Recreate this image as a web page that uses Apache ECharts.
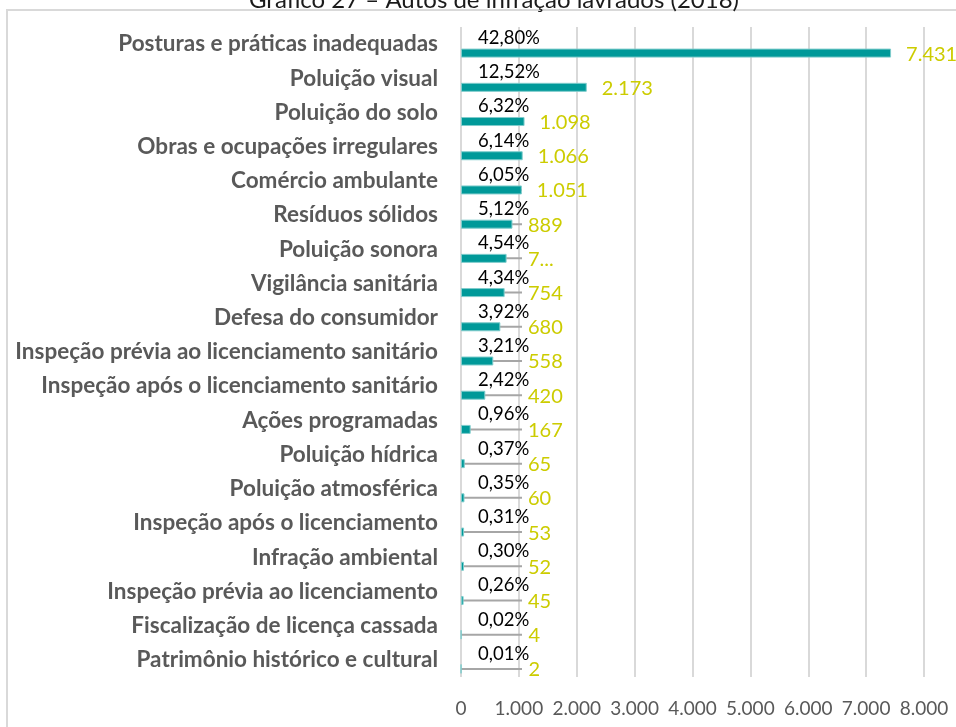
<!DOCTYPE html>
<html>
<head>
<meta charset="utf-8">
<script src="https://cdn.jsdelivr.net/npm/echarts@6/dist/echarts.min.js"></script>
<style>
* { margin: 0; padding: 0; }
html, body { width: 956px; height: 727px; background: #fff; overflow: hidden; }
#chart { width: 956px; height: 727px; }
</style>
</head>
<body>
<div id="chart"></div>
<script>
// autos de infração por tipo
var categories = [
  'Posturas e práticas inadequadas', 'Poluição visual', 'Poluição do solo',
  'Obras e ocupações irregulares', 'Comércio ambulante', 'Resíduos sólidos',
  'Poluição sonora', 'Vigilância sanitária', 'Defesa do consumidor',
  'Inspeção prévia ao licenciamento sanitário', 'Inspeção após o licenciamento sanitário',
  'Ações programadas', 'Poluição hídrica', 'Poluição atmosférica',
  'Inspeção após o licenciamento', 'Infração ambiental',
  'Inspeção prévia ao licenciamento', 'Fiscalização de licença cassada',
  'Patrimônio histórico e cultural'
];
var values = [7431, 2173, 1098, 1066, 1051, 889, 788, 754, 680, 558, 420, 167, 65, 60, 53, 52, 45, 4, 2];
var percents = [42.80, 12.52, 6.32, 6.14, 6.05, 5.12, 4.54, 4.34, 3.92, 3.21, 2.42, 0.96, 0.37, 0.35, 0.31, 0.30, 0.26, 0.02, 0.01];
var xTicks = [0, 1000, 2000, 3000, 4000, 5000, 6000, 7000, 8000];

var FONT = 'Lato';
var fmtThousands = function (v) {
  return String(v).replace(/\B(?=(\d{3})+(?!\d))/g, '.');
};

var chart = echarts.init(document.getElementById('chart'));

function valueData(offsets) {
  return values.map(function (v, i) {
    var item = { value: v, label: { offset: [offsets ? offsets[i] : 0, 1] } };
    if (categories[i] === 'Poluição sonora') {
      // Excel cortou esse rótulo
      item.label.width = 27;
      item.label.overflow = 'truncate';
      item.label.ellipsis = '...';
    }
    return item;
  });
}

chart.setOption({
  animation: false,
  title: {
    text: 'Gráfico 27 – Autos de infração lavrados (2018)',
    left: 244,
    top: -17,
    textStyle: { fontFamily: FONT, fontSize: 24, fontWeight: 'normal', color: '#1a1a1a' }
  },
  graphic: [{
    type: 'rect',
    shape: { x: 7, y: 10, width: 1000, height: 1000 },
    style: { fill: 'none', stroke: '#D9D9D9', lineWidth: 2 },
    silent: true
  }],
  grid: { left: 461, right: 32, top: 27, bottom: 50 },
  xAxis: {
    type: 'value',
    min: 0,
    max: 8000,
    interval: 1000,
    axisLine: { show: false },
    axisTick: { show: false },
    splitLine: { lineStyle: { color: '#D9D9D9', width: 2 } },
    axisLabel: {
      margin: 22,
      fontFamily: FONT,
      fontSize: 19,
      color: '#595959',
      formatter: function (v) { return xTicks.indexOf(v) >= 0 ? fmtThousands(v) : ''; }
    }
  },
  yAxis: {
    type: 'category',
    inverse: true,
    data: categories,
    axisLine: { show: false },
    axisTick: { show: false },
    axisLabel: {
      margin: 23,
      fontFamily: FONT,
      fontSize: 22.5,
      fontWeight: 'bold',
      color: '#595959'
    }
  },
  series: [
    {
      // linha cinza sob o percentual
      type: 'custom',
      z: 1,
      silent: true,
      encode: { x: 0, y: 1 },
      data: categories.map(function (c, i) { return [0, i]; }),
      renderItem: function (params, api) {
        var p = api.coord([0, api.value(1)]);
        return {
          type: 'line',
          shape: { x1: p[0], y1: p[1] + 9, x2: p[0] + 61, y2: p[1] + 9 },
          style: { stroke: '#A6A6A6', lineWidth: 2 }
        };
      }
    },
    {
      name: 'Percentual',
      type: 'bar',
      barWidth: 9,
      barGap: '100%',
      z: 3,
      silent: true,
      itemStyle: { color: 'transparent' },
      data: percents,
      label: {
        show: true,
        position: 'insideLeft',
        distance: 17,
        offset: [0, 3],
        fontFamily: FONT,
        fontSize: 18.5,
        color: '#000',
        formatter: function (p) { return p.value.toFixed(2).replace('.', ',') + '%'; }
      }
    },
    {
      name: 'Autos',
      type: 'bar',
      barWidth: 9,
      z: 2,
      itemStyle: { color: '#009999', borderColor: '#7FCCCC', borderWidth: 1 },
      data: valueData(null),
      label: {
        show: true,
        position: 'right',
        distance: 15,
        fontFamily: FONT,
        fontSize: 20,
        color: '#CCCC00',
        formatter: function (p) { return fmtThousands(p.value); }
      }
    }
  ]
});

// empurra rótulos pequenos para a direita, como o Excel faz
var x0 = chart.convertToPixel({ xAxisIndex: 0 }, 0);
var minX = x0 + 67;
var offsets = values.map(function (v) {
  var end = chart.convertToPixel({ xAxisIndex: 0 }, v) + 15;
  return Math.max(0, minX - end);
});
chart.setOption({ series: [{}, {}, { data: valueData(offsets) }] });
</script>
</body>
</html>
